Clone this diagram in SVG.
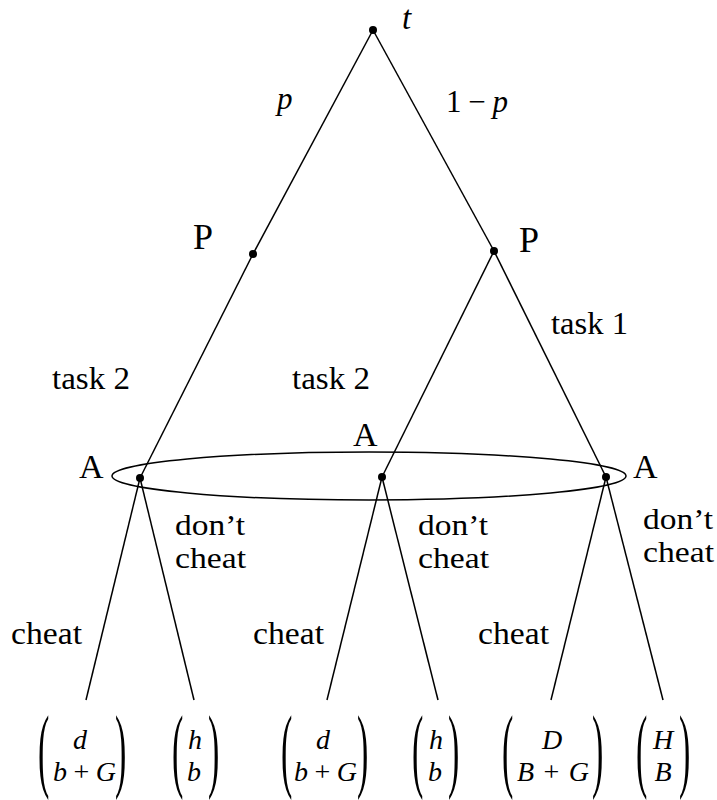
<svg xmlns="http://www.w3.org/2000/svg" width="717" height="800" viewBox="0 0 717 800">
<style>
text{font-family:"Liberation Serif","Times New Roman",serif;fill:#000}
.lab{font-size:31px}
.dc{font-size:29px}
.node{font-size:34px}
.m{font-size:31px;font-style:italic}
.v{font-size:28px;font-style:italic}
.r{font-style:normal}
.par{font-size:34px}
.e{stroke:#000;stroke-width:1.5;fill:none}
.dot{fill:#000}
</style>
<rect width="717" height="800" fill="#fff"/>
<g id="connectors">
<line class="e" x1="373" y1="30" x2="253" y2="254"/>
<line class="e" x1="253" y1="254" x2="140" y2="478"/>
<line class="e" x1="373" y1="30" x2="494" y2="251"/>
<line class="e" x1="494" y1="251" x2="606" y2="477"/>
<line class="e" x1="494" y1="251" x2="382" y2="477"/>
<line class="e" x1="140" y1="478" x2="86" y2="700"/>
<line class="e" x1="140" y1="478" x2="194" y2="700"/>
<line class="e" x1="382" y1="477" x2="327" y2="700"/>
<line class="e" x1="382" y1="477" x2="438" y2="700"/>
<line class="e" x1="606" y1="477" x2="551" y2="700"/>
<line class="e" x1="606" y1="477" x2="663" y2="700"/>
<ellipse class="e" cx="369" cy="476" rx="257" ry="24"/>
</g>
<g id="edge-labels">
<text class="m" x="277" y="109">p</text>
<text class="lab" x="446" y="112" textLength="62" lengthAdjust="spacing">1<tspan>−</tspan><tspan font-style="italic">p</tspan></text>
<text class="lab" x="551" y="334" textLength="77" lengthAdjust="spacingAndGlyphs">task 1</text>
<text class="lab" x="52" y="389" textLength="78" lengthAdjust="spacingAndGlyphs">task 2</text>
<text class="lab" x="292" y="389" textLength="78" lengthAdjust="spacingAndGlyphs">task 2</text>
<text class="dc" x="175" y="535" textLength="70" lengthAdjust="spacingAndGlyphs">don’t</text>
<text class="dc" x="175" y="568" textLength="71" lengthAdjust="spacingAndGlyphs">cheat</text>
<text class="dc" x="418" y="535" textLength="70" lengthAdjust="spacingAndGlyphs">don’t</text>
<text class="dc" x="418" y="568" textLength="71" lengthAdjust="spacingAndGlyphs">cheat</text>
<text class="dc" x="643" y="529" textLength="70" lengthAdjust="spacingAndGlyphs">don’t</text>
<text class="dc" x="643" y="562" textLength="71" lengthAdjust="spacingAndGlyphs">cheat</text>
<text class="lab" x="11" y="644" textLength="71" lengthAdjust="spacingAndGlyphs">cheat</text>
<text class="lab" x="253" y="644" textLength="71" lengthAdjust="spacingAndGlyphs">cheat</text>
<text class="lab" x="478" y="644" textLength="71" lengthAdjust="spacingAndGlyphs">cheat</text>
</g>
<g id="node-root">
<circle class="dot" cx="373" cy="30" r="4"/>
<text x="402" y="29" font-size="33" font-style="italic">t</text>
</g>
<g id="node-P-left">
<circle class="dot" cx="253" cy="254" r="4"/>
<text x="193" y="249" font-size="36">P</text>
</g>
<g id="node-P-right">
<circle class="dot" cx="494" cy="251" r="4"/>
<text x="519" y="252" font-size="36">P</text>
</g>
<g id="node-A-left">
<circle class="dot" cx="140" cy="478" r="4"/>
<text class="node" x="79" y="478">A</text>
</g>
<g id="node-A-mid">
<circle class="dot" cx="382" cy="477" r="4"/>
<text class="node" x="353" y="446">A</text>
</g>
<g id="node-A-right">
<circle class="dot" cx="606" cy="477" r="4"/>
<text class="node" x="633" y="478">A</text>
</g>
<g id="leaf-1">
<text class="par" transform="translate(38,780) scale(1,2.77)">(</text>
<text class="par" transform="translate(115,780) scale(1,2.77)">)</text>
<text class="v" x="80" y="749" text-anchor="middle">d</text>
<text class="v" x="53" y="781" textLength="63" lengthAdjust="spacing">b<tspan class="r">+</tspan>G</text>
</g>
<g id="leaf-2">
<text class="par" transform="translate(172,780) scale(1,2.77)">(</text>
<text class="par" transform="translate(208,780) scale(1,2.77)">)</text>
<text class="v" x="195" y="749" text-anchor="middle">h</text>
<text class="v" x="194" y="781" text-anchor="middle">b</text>
</g>
<g id="leaf-3">
<text class="par" transform="translate(281,780) scale(1,2.77)">(</text>
<text class="par" transform="translate(357,780) scale(1,2.77)">)</text>
<text class="v" x="323" y="749" text-anchor="middle">d</text>
<text class="v" x="294" y="781" textLength="63" lengthAdjust="spacing">b<tspan class="r">+</tspan>G</text>
</g>
<g id="leaf-4">
<text class="par" transform="translate(412,780) scale(1,2.77)">(</text>
<text class="par" transform="translate(448,780) scale(1,2.77)">)</text>
<text class="v" x="436" y="749" text-anchor="middle">h</text>
<text class="v" x="435" y="781" text-anchor="middle">b</text>
</g>
<g id="leaf-5">
<text class="par" transform="translate(502,780) scale(1,2.77)">(</text>
<text class="par" transform="translate(592,780) scale(1,2.77)">)</text>
<text class="v" x="552" y="749" text-anchor="middle">D</text>
<text class="v" x="517" y="781" textLength="72" lengthAdjust="spacing">B<tspan class="r">+</tspan>G</text>
</g>
<g id="leaf-6">
<text class="par" transform="translate(636,780) scale(1,2.77)">(</text>
<text class="par" transform="translate(679,780) scale(1,2.77)">)</text>
<text class="v" x="663" y="749" text-anchor="middle">H</text>
<text class="v" x="663" y="781" text-anchor="middle">B</text>
</g>
</svg>
